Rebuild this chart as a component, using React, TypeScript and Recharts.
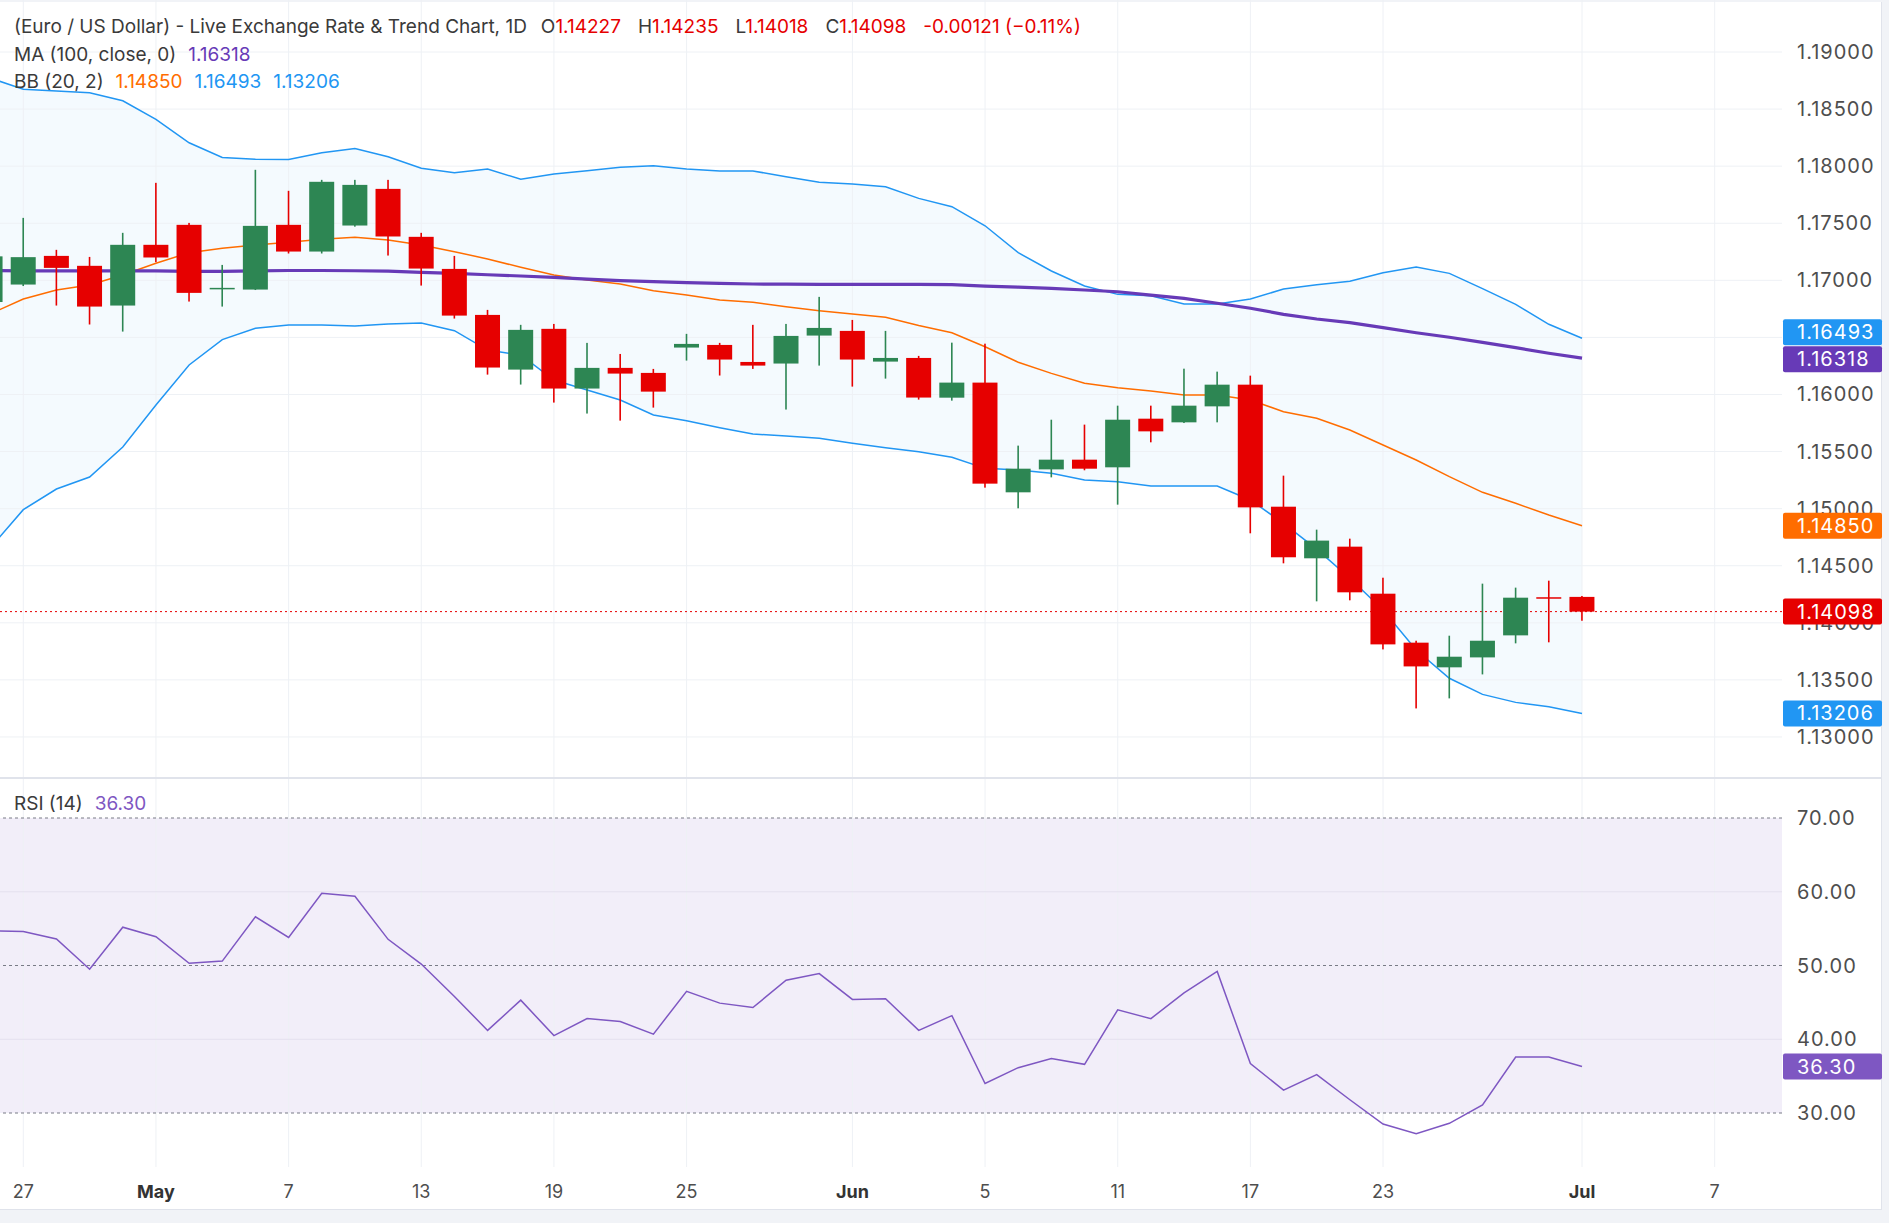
import {
	ComposedChart,
	Bar,
	Line,
	Area,
	XAxis,
	YAxis,
	ReferenceLine,
	ReferenceArea,
} from 'recharts'

// trading days shown (first one is cut by the left edge)
const days = [
	'Apr 24', 'Apr 27', 'Apr 28', 'Apr 29', 'Apr 30', 'May 1', 'May 4', 'May 5', 'May 6', 'May 7',
	'May 8', 'May 11', 'May 12', 'May 13', 'May 14', 'May 15', 'May 18', 'May 19', 'May 20', 'May 21',
	'May 22', 'May 25', 'May 26', 'May 27', 'May 28', 'May 29', 'Jun 1', 'Jun 2', 'Jun 3', 'Jun 4',
	'Jun 5', 'Jun 8', 'Jun 9', 'Jun 10', 'Jun 11', 'Jun 12', 'Jun 15', 'Jun 16', 'Jun 17', 'Jun 18',
	'Jun 19', 'Jun 22', 'Jun 23', 'Jun 24', 'Jun 25', 'Jun 26', 'Jun 29', 'Jun 30', 'Jul 1',
]
const futureDays = ['Jul 2', 'Jul 3', 'Jul 6', 'Jul 7']

const open = [
	1.1681, 1.16963, 1.17214, 1.17127, 1.16779, 1.17311, 1.17486, 1.16928, 1.16919, 1.17486,
	1.17252, 1.1748, 1.17801, 1.17381, 1.171, 1.16697, 1.16218, 1.16575, 1.16052, 1.16233,
	1.16189, 1.16411, 1.16434, 1.16285, 1.16271, 1.16516, 1.16557, 1.16288, 1.1632, 1.15972,
	1.16104, 1.15143, 1.15344, 1.15429, 1.15362, 1.15788, 1.15756, 1.15896, 1.16086, 1.15017,
	1.14565, 1.14667, 1.14255, 1.13826, 1.1361, 1.13697, 1.1389, 1.14224, 1.14227,
]
const high = [
	1.1724, 1.17547, 1.17267, 1.17205, 1.17416, 1.17854, 1.17503, 1.17135, 1.17968, 1.17784,
	1.1788, 1.1788, 1.1788, 1.17416, 1.17214, 1.16741, 1.1661, 1.16618, 1.16452, 1.16355,
	1.16224, 1.16531, 1.16452, 1.1661, 1.16618, 1.16855, 1.16653, 1.16557, 1.16338, 1.16454,
	1.16445, 1.15552, 1.15779, 1.15736, 1.15902, 1.15902, 1.16226, 1.162, 1.16165, 1.15289,
	1.14816, 1.14737, 1.14395, 1.13843, 1.13887, 1.14343, 1.14308, 1.14369, 1.14235,
]
const low = [
	1.1676, 1.1695, 1.16779, 1.16613, 1.16551, 1.17159, 1.16814, 1.1677, 1.16915, 1.17235,
	1.17235, 1.1747, 1.17217, 1.16954, 1.16665, 1.16174, 1.16087, 1.15929, 1.15833, 1.15771,
	1.15885, 1.16297, 1.16166, 1.16224, 1.15868, 1.16253, 1.16069, 1.16139, 1.15955, 1.15946,
	1.15184, 1.15003, 1.15274, 1.15336, 1.15035, 1.15581, 1.1575, 1.15756, 1.14784, 1.14521,
	1.14188, 1.14197, 1.13767, 1.1325, 1.13338, 1.13548, 1.1382, 1.13829, 1.14018,
]
const close = [
	1.1721, 1.17203, 1.17109, 1.1677, 1.17311, 1.172, 1.1689, 1.16934, 1.17477, 1.17252,
	1.17863, 1.17836, 1.17384, 1.17103, 1.16691, 1.16236, 1.16566, 1.16052, 1.16233, 1.16183,
	1.16025, 1.16443, 1.16306, 1.16253, 1.16513, 1.16583, 1.16306, 1.1632, 1.15973, 1.16104,
	1.15219, 1.1535, 1.15429, 1.1535, 1.15779, 1.15677, 1.15902, 1.16086, 1.15011, 1.14574,
	1.1472, 1.14267, 1.13811, 1.13618, 1.13703, 1.13843, 1.1422, 1.14219, 1.14098,
]

// Bollinger (20, 2) and MA (100)
const bbUpper = [
	1.18772, 1.18673, 1.18658, 1.18643, 1.18573, 1.1841, 1.18205, 1.18076, 1.1806, 1.18058,
	1.18118, 1.18155, 1.18083, 1.17981, 1.17943, 1.17975, 1.17885, 1.17931, 1.1796, 1.1799,
	1.18004, 1.17975, 1.17958, 1.17958, 1.17908, 1.17859, 1.17844, 1.1782, 1.17718, 1.17645,
	1.17478, 1.17242, 1.17082, 1.1695, 1.16877, 1.16865, 1.16792, 1.16792, 1.16836, 1.16924,
	1.16962, 1.16991, 1.17067, 1.17117, 1.17061, 1.16927, 1.1679, 1.16615, 1.16493,
]
const bbMid = [
	1.16705, 1.16836, 1.16915, 1.16959, 1.17047, 1.17149, 1.17242, 1.1728, 1.17309, 1.17333,
	1.17359, 1.17377, 1.17353, 1.17309, 1.17251, 1.17187, 1.17114, 1.17047, 1.17003, 1.16968,
	1.16909, 1.16871, 1.16828, 1.16807, 1.16769, 1.16734, 1.16705, 1.16676, 1.16604, 1.16541,
	1.16418, 1.16282, 1.16185, 1.16098, 1.16059, 1.1603, 1.15995, 1.15995, 1.15952, 1.15849,
	1.15791, 1.15689, 1.15557, 1.15426, 1.1528, 1.15143, 1.15047, 1.14944, 1.1485,
]
const bbLower = [
	1.14655, 1.14991, 1.15172, 1.15277, 1.1554, 1.15908, 1.16258, 1.16481, 1.1658, 1.16608,
	1.16608, 1.166, 1.16617, 1.16626, 1.16559, 1.16389, 1.16346, 1.16127, 1.16039, 1.15952,
	1.1582, 1.1577, 1.15709, 1.15654, 1.15636, 1.15616, 1.15572, 1.15534, 1.15499, 1.1545,
	1.15353, 1.15338, 1.15309, 1.15251, 1.15236, 1.15198, 1.15198, 1.15198, 1.15076, 1.14871,
	1.14645, 1.1439, 1.14112, 1.13762, 1.13514, 1.13373, 1.13303, 1.13265, 1.13206,
]
const ma100 = [
	1.17086, 1.17082, 1.17082, 1.17083, 1.17083, 1.17082, 1.17079, 1.17079, 1.17082, 1.17086,
	1.17086, 1.17084, 1.1708, 1.1707, 1.17061, 1.17049, 1.17038, 1.17026, 1.17011, 1.16997,
	1.16988, 1.16979, 1.16974, 1.16968, 1.16966, 1.16965, 1.16965, 1.16965, 1.16965, 1.16962,
	1.1695, 1.1694, 1.1693, 1.16915, 1.169, 1.16871, 1.16842, 1.16799, 1.16755, 1.16702,
	1.16661, 1.16629, 1.16585, 1.16541, 1.16501, 1.16457, 1.1641, 1.16361, 1.16318,
]
const rsi = [
	54.7, 54.6, 53.6, 49.5, 55.2, 53.9, 50.3, 50.6, 56.6, 53.8,
	59.8, 59.4, 53.55, 50.2, 45.8, 41.2, 45.3, 40.5, 42.8, 42.4,
	40.7, 46.5, 44.9, 44.3, 48.0, 48.9, 45.4, 45.5, 41.2, 43.2,
	34.0, 36.15, 37.4, 36.6, 44.0, 42.8, 46.3, 49.2, 36.7, 33.1,
	35.2, 31.8, 28.5, 27.2, 28.6, 31.1, 37.6, 37.6, 36.3,
]

const tickDays = ['Apr 27', 'May 1', 'May 7', 'May 13', 'May 19', 'May 25', 'Jun 1', 'Jun 5', 'Jun 11', 'Jun 17', 'Jun 23', 'Jul 1', 'Jul 7']
const tickLabels = ['27', 'May', '7', '13', '19', '25', 'Jun', '5', '11', '17', '23', 'Jul', '7']
const priceTicks = [1.13, 1.135, 1.14, 1.145, 1.15, 1.155, 1.16, 1.165, 1.17, 1.175, 1.18, 1.185, 1.19]
// 1.16500 sits under the indicator badges, so its label is not shown
const hiddenPriceLabels = [1.165]
const rsiTicks = [30, 40, 50, 60, 70]

const FONT = 'Inter, "Noto Sans", sans-serif'
const GREEN = '#2d8653'
const RED = '#e60000'
const BLUE = '#2196f3'
const ORANGE = '#ff6d00'
const PURPLE = '#673ab7'
const RSI_PURPLE = '#7e57c2'
const GRID = '#eef1f5'
const TEXT = '#4e4e4e'

const allDays = [...days, ...futureDays]
const idx = (d: string) => allDays.indexOf(d) - 1
const tickIdx = tickDays.map(idx)
const X_DOMAIN = [-0.7025, 53.03]

const data = days.map((d, k) => ({
	x: idx(d),
	day: d,
	open: open[k],
	high: high[k],
	low: low[k],
	close: close[k],
	range: [low[k], high[k]],
	band: [bbLower[k], bbUpper[k]],
	upper: bbUpper[k],
	mid: bbMid[k],
	lower: bbLower[k],
	ma: ma100[k],
	rsi: rsi[k],
}))

const last = data.length - 1
const change = close[last] - close[last - 1]
const pct = (change / close[last - 1]) * 100

const Candle = (props: any) => {
	const { x, y, width, height, payload } = props
	if (payload == null || x == null || y == null) return null
	const top = Math.min(y, y + height)
	const span = Math.abs(height)
	const k = span / (payload.high - payload.low)
	const py = (v: number) => top + (payload.high - v) * k
	const color = payload.close >= payload.open ? GREEN : RED
	const cx = x + width / 2
	const bTop = py(Math.max(payload.open, payload.close))
	const bH = Math.max(py(Math.min(payload.open, payload.close)) - bTop, 1.5)
	return (
		<g>
			<rect x={cx - 0.8} y={top} width={1.6} height={span} fill={color} />
			<rect x={cx - width / 2} y={bTop} width={width} height={bH} fill={color} />
		</g>
	)
}

const AXIS_FONT = 20
const AXIS_SPACING = 1

// axis text drawn as a reference-line label so badges can sit on top of it
const axisLabel = (text: string) => (props: any) => {
	const vb = props.viewBox || {}
	return (
		<text
			x={(vb.x || 0) + (vb.width || 0) + 15}
			y={vb.y || 0}
			dominantBaseline='central'
			fontSize={AXIS_FONT}
			letterSpacing={AXIS_SPACING}
			fill={TEXT}
			fontFamily={FONT}
		>
			{text}
		</text>
	)
}

const badge = (color: string, text: string, shift = 0) => (props: any) => {
	const vb = props.viewBox || {}
	const left = (vb.x || 0) + (vb.width || 0) + 1
	const cy = (vb.y || 0) + shift
	return (
		<g>
			<rect x={left} y={cy - 13} width={99} height={26} rx={2} fill={color} />
			<text
				x={left + 14}
				y={cy}
				dominantBaseline='central'
				fontSize={AXIS_FONT}
				letterSpacing={AXIS_SPACING}
				fill='#fff'
				fontFamily={FONT}
			>
				{text}
			</text>
		</g>
	)
}

const TimeTick = (props: any) => {
	const { x, y, payload } = props
	const label = tickLabels[tickIdx.indexOf(payload.value)]
	const month = isNaN(Number(label))
	return (
		<text
			x={x}
			y={y + 24}
			textAnchor='middle'
			dominantBaseline='central'
			fontSize={18}
			fontWeight={month ? 700 : 400}
			fill={month ? '#333' : TEXT}
			fontFamily={FONT}
		>
			{label}
		</text>
	)
}

const W = 1889
const PRICE_H = 777
const RSI_TOP = 779
const RSI_H = 431

export default function App() {
	const priceBadges = [
		{ v: bbUpper[last], color: BLUE, shift: -6 },
		{ v: ma100[last], color: PURPLE, shift: 1 },
		{ v: bbMid[last], color: ORANGE, shift: 0 },
		{ v: close[last], color: RED, shift: 0 },
		{ v: bbLower[last], color: BLUE, shift: 0 },
	]
	const red = { color: RED }
	return (
		<div style={{ position: 'relative', width: W, height: 1223, background: '#f1f3f7', overflow: 'hidden', fontFamily: FONT }}>
			<style>{'body{margin:0}'}</style>
			<div style={{ position: 'absolute', left: 0, top: 2, width: 1882, height: 1208, background: '#fff', borderRight: '1px solid #e0e3eb', borderBottom: '1px solid #e0e3eb', boxSizing: 'border-box' }} />
			<div style={{ position: 'absolute', left: 0, top: 0 }}>
				<ComposedChart width={W} height={PRICE_H} data={data} margin={{ top: 0, right: 0, left: 0, bottom: 0 }}>
					<XAxis dataKey='x' type='number' domain={X_DOMAIN} allowDataOverflow hide />
					<YAxis
						orientation='right'
						type='number'
						width={107}
						domain={[1.126493, 1.194555]}
						allowDataOverflow
						ticks={priceTicks}
						tick={false}
						axisLine={false}
						tickLine={false}
					/>
					{priceTicks.map((t) => (
						<ReferenceLine
							key={'h' + t}
							y={t}
							stroke={GRID}
							strokeWidth={1}
							label={hiddenPriceLabels.includes(t) ? undefined : axisLabel(t.toFixed(5))}
						/>
					))}
					{tickIdx.map((t) => (
						<ReferenceLine key={'v' + t} x={t} stroke={GRID} strokeWidth={1} />
					))}
					<Area dataKey='band' type='linear' stroke='none' fill={BLUE} fillOpacity={0.05} isAnimationActive={false} />
					<Line dataKey='upper' type='linear' stroke={BLUE} strokeWidth={1.5} dot={false} isAnimationActive={false} />
					<Line dataKey='lower' type='linear' stroke={BLUE} strokeWidth={1.5} dot={false} isAnimationActive={false} />
					<Line dataKey='mid' type='linear' stroke={ORANGE} strokeWidth={1.5} dot={false} isAnimationActive={false} />
					<Line dataKey='ma' type='linear' stroke={PURPLE} strokeWidth={3.2} dot={false} isAnimationActive={false} />
					<ReferenceLine y={close[last]} stroke={RED} strokeWidth={1} strokeDasharray='2 3' />
					<Bar dataKey='range' barSize={25} shape={Candle} isAnimationActive={false} zIndex={450} />
					{priceBadges.map((b, i) => (
						<ReferenceLine
							key={'b' + i}
							y={b.v}
							stroke='none'
							label={badge(b.color, b.v.toFixed(5), b.shift)}
						/>
					))}
				</ComposedChart>
			</div>
			<div style={{ position: 'absolute', left: 0, top: 777, width: 1882, height: 2, background: '#e0e3eb' }} />
			<div style={{ position: 'absolute', left: 0, top: RSI_TOP }}>
				<ComposedChart width={W} height={RSI_H} data={data} margin={{ top: 0, right: 0, left: 0, bottom: 0 }}>
					<XAxis
						dataKey='x'
						type='number'
						domain={X_DOMAIN}
						allowDataOverflow
						ticks={tickIdx}
						interval={0}
						height={43}
						tick={<TimeTick />}
						tickSize={0}
						tickMargin={0}
						axisLine={false}
						tickLine={false}
					/>
					<YAxis
						orientation='right'
						type='number'
						width={107}
						domain={[22.68, 75.29]}
						allowDataOverflow
						ticks={rsiTicks}
						tick={false}
						axisLine={false}
						tickLine={false}
					/>
					<ReferenceArea y1={30} y2={70} fill={RSI_PURPLE} fillOpacity={0.1} stroke='none' />
					{tickIdx.map((t) => (
						<ReferenceLine key={'rv' + t} x={t} stroke={GRID} strokeWidth={1} />
					))}
					{rsiTicks.map((t) => (
						<ReferenceLine
							key={'r' + t}
							y={t}
							stroke={t % 20 === 10 ? '#787b86' : '#e4e0ee'}
							strokeWidth={1}
							strokeDasharray={t % 20 === 10 ? '3 3' : undefined}
							label={axisLabel(t.toFixed(2))}
						/>
					))}
					<Line dataKey='rsi' type='linear' stroke={RSI_PURPLE} strokeWidth={1.5} dot={false} isAnimationActive={false} />
					<ReferenceLine y={rsi[last]} stroke='none' label={badge(RSI_PURPLE, rsi[last].toFixed(2))} />
				</ComposedChart>
			</div>
			<div style={{ position: 'absolute', left: 14, top: 13, fontSize: 19, lineHeight: '27.5px', color: '#3a3a3a', whiteSpace: 'nowrap' }}>
				<div>
					(Euro / US Dollar) - Live Exchange Rate &amp; Trend Chart, 1D
					<span style={{ marginLeft: 14 }}>O<span style={red}>{open[last].toFixed(5)}</span></span>
					<span style={{ marginLeft: 17 }}>H<span style={red}>{high[last].toFixed(5)}</span></span>
					<span style={{ marginLeft: 17 }}>L<span style={red}>{low[last].toFixed(5)}</span></span>
					<span style={{ marginLeft: 17 }}>C<span style={red}>{close[last].toFixed(5)}</span></span>
					<span style={{ marginLeft: 17, color: RED }}>
						{change.toFixed(5)} (−{Math.abs(pct).toFixed(2)}%)
					</span>
				</div>
				<div>
					MA (100, close, 0)<span style={{ marginLeft: 12, color: PURPLE }}>{ma100[last].toFixed(5)}</span>
				</div>
				<div>
					BB (20, 2)
					<span style={{ marginLeft: 12, color: ORANGE }}>{bbMid[last].toFixed(5)}</span>
					<span style={{ marginLeft: 12, color: BLUE }}>{bbUpper[last].toFixed(5)}</span>
					<span style={{ marginLeft: 12, color: BLUE }}>{bbLower[last].toFixed(5)}</span>
				</div>
			</div>
			<div style={{ position: 'absolute', left: 14, top: 790, fontSize: 19, lineHeight: '27.5px', color: '#3a3a3a', whiteSpace: 'nowrap' }}>
				RSI (14)<span style={{ marginLeft: 12, color: RSI_PURPLE }}>{rsi[last].toFixed(2)}</span>
			</div>
		</div>
	)
}
